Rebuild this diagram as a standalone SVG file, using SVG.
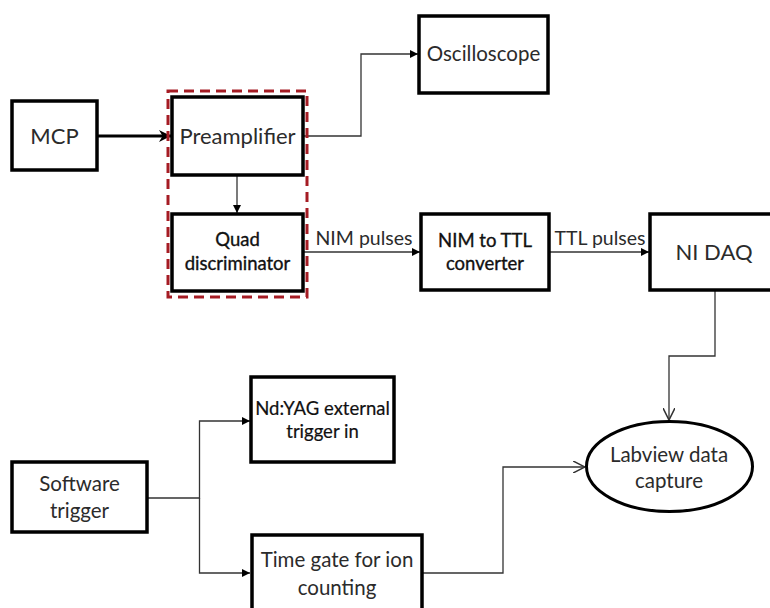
<svg xmlns="http://www.w3.org/2000/svg" width="770" height="608" viewBox="0 0 770 608">
<style>
.box{fill:#fff;stroke:#000;stroke-width:3.5}
.t{font-family:Lato,"Open Sans",sans-serif;fill:#2b2b2b;text-anchor:middle}
.b{fill:#111;stroke:#111;stroke-width:0.35}
.c{fill:none;stroke:#333;stroke-width:1.3}
.thick{fill:none;stroke:#000;stroke-width:2.8}
.lbl{font-family:Lato,"Open Sans",sans-serif;fill:#2b2b2b;font-size:19.5px;text-anchor:middle}
</style>
<defs>
<marker id="ah" viewBox="0 0 10 10" refX="10" refY="5" markerWidth="8" markerHeight="8" markerUnits="userSpaceOnUse" orient="auto"><path d="M0,0 L10,5 L0,10 Z" fill="#000"/></marker>
<marker id="ahb" viewBox="0 0 10 10" refX="10" refY="5" markerWidth="12" markerHeight="12" markerUnits="userSpaceOnUse" orient="auto"><path d="M0,0 L10,5 L0,10 L3,5 Z" fill="#000"/></marker>
<marker id="ao" viewBox="0 0 10 10" refX="10" refY="5" markerWidth="12" markerHeight="12" markerUnits="userSpaceOnUse" orient="auto"><path d="M0,0 L10,5 L0,10" fill="none" stroke="#333" stroke-width="1.3"/></marker>
</defs>
<rect width="770" height="608" fill="#fff"/>
<g id="connectors">
<path class="thick" d="M97,136 L171,136" marker-end="url(#ahb)"/>
<path class="c" d="M237,175 L237,213" marker-end="url(#ah)"/>
<path class="c" d="M303,136 L361,136 L361,54 L418,54" marker-end="url(#ah)"/>
<path class="c" d="M303,252 L420,252" marker-end="url(#ah)"/>
<path class="c" d="M549,252 L649,252" marker-end="url(#ah)"/>
<path class="c" d="M715,290 L715,356 L669,356 L669,420" marker-end="url(#ao)"/>
<path class="c" d="M147,498 L199.5,498 L199.5,421 L250,421" marker-end="url(#ah)"/>
<path class="c" d="M199.5,498 L199.5,573 L250,573" marker-end="url(#ah)"/>
<path class="c" d="M422,573 L503,573 L503,467 L585,467" marker-end="url(#ao)"/>
<text class="lbl" x="364" y="245">NIM pulses</text>
<text class="lbl" x="600" y="245">TTL pulses</text>
</g>
<g id="group">
<rect x="168" y="91" width="139" height="206" fill="none" stroke="#a51c24" stroke-width="3" stroke-dasharray="10,6"/>
</g>
<g id="mcp"><rect class="box" x="12" y="101" width="85" height="69"/><text class="t" x="54.5" y="144" font-size="22">MCP</text></g>
<g id="preamp"><rect class="box" x="172" y="97" width="131" height="78"/><text class="t" x="237.5" y="144" font-size="22">Preamplifier</text></g>
<g id="quad"><rect class="box" x="172" y="214" width="131" height="77"/><text class="t b" x="237.5" y="246" font-size="18.5">Quad</text><text class="t b" x="237.5" y="270" font-size="18.5">discriminator</text></g>
<g id="osc"><rect class="box" x="419" y="16" width="129" height="77"/><text class="t" x="483.5" y="61" font-size="20.5">Oscilloscope</text></g>
<g id="nimttl"><rect class="box" x="421" y="214" width="128" height="76"/><text class="t b" x="485" y="247" font-size="18.5">NIM to TTL</text><text class="t b" x="485" y="270" font-size="18.5">converter</text></g>
<g id="nidaq"><rect class="box" x="650" y="214" width="125" height="76"/><text class="t" x="714" y="260" font-size="22">NI DAQ</text></g>
<g id="labview"><ellipse cx="669.5" cy="466.5" rx="83" ry="45" fill="#fff" stroke="#000" stroke-width="3"/><text class="t" x="669" y="462" font-size="20.5">Labview data</text><text class="t" x="669" y="488" font-size="20.5">capture</text></g>
<g id="software"><rect class="box" x="12" y="462" width="135" height="70"/><text class="t" x="79.5" y="491" font-size="20.5">Software</text><text class="t" x="79.5" y="518" font-size="20.5">trigger</text></g>
<g id="ndyag"><rect class="box" x="251" y="377" width="143" height="85"/><text class="t b" x="322.5" y="415" font-size="18.5" style="stroke-width:0.2">Nd:YAG external</text><text class="t b" x="322.5" y="438" font-size="18.5" style="stroke-width:0.2">trigger in</text></g>
<g id="timegate"><rect class="box" x="252" y="535" width="170" height="80"/><text class="t" x="337" y="567" font-size="20.5">Time gate for ion</text><text class="t" x="337" y="595" font-size="20.5">counting</text></g>
</svg>
